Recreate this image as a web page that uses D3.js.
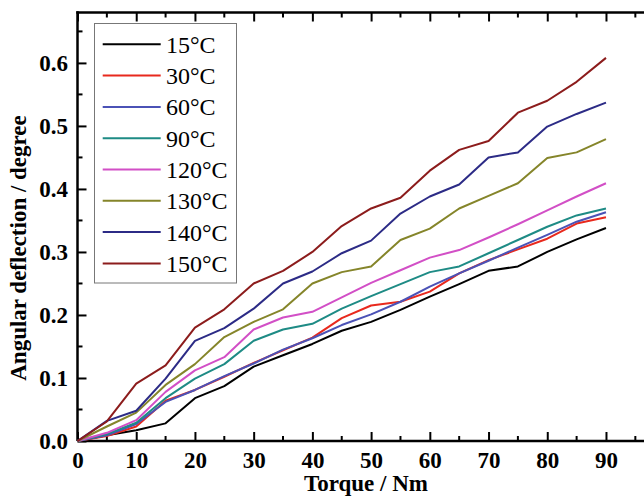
<!DOCTYPE html>
<html>
<head>
<meta charset="UTF-8" />
<title>Angular deflection vs torque</title>
<script src="https://d3js.org/d3.v7.min.js"></script>
<style type="text/css">
body {
    margin: 0;
    background-color: white;
}
svg text {
    font-family: "Liberation Serif", "DejaVu Serif", serif;
}
.tick-label {
    font-size: 23px;
    font-weight: bold;
}
.axis-title {
    font-size: 23px;
    font-weight: bold;
}
.legend-label {
    font-size: 24px;
}
</style>
</head>
<body>
<svg id="chart" width="644" height="496"></svg>

<script type="text/javascript">
// x values (torque, Nm)
var torque = [0, 5, 10, 15, 20, 25, 30, 35, 40, 45, 50, 55, 60, 65, 70, 75, 80, 85, 90];

// angular deflection (degree) for each temperature
var t15  = [0, 0.009, 0.017, 0.028, 0.068, 0.087, 0.118, 0.136, 0.154, 0.175, 0.189, 0.208, 0.229, 0.249, 0.270, 0.277, 0.300, 0.320, 0.338];
var t30  = [0, 0.008, 0.023, 0.064, 0.081, 0.102, 0.124, 0.144, 0.164, 0.195, 0.215, 0.221, 0.237, 0.266, 0.287, 0.304, 0.321, 0.345, 0.355];
var t60  = [0, 0.009, 0.027, 0.062, 0.081, 0.103, 0.123, 0.145, 0.163, 0.184, 0.201, 0.221, 0.245, 0.266, 0.286, 0.307, 0.327, 0.348, 0.363];
var t90  = [0, 0.011, 0.029, 0.068, 0.099, 0.122, 0.159, 0.177, 0.186, 0.210, 0.230, 0.249, 0.268, 0.277, 0.298, 0.319, 0.340, 0.358, 0.369];
var t120 = [0, 0.013, 0.033, 0.078, 0.112, 0.133, 0.177, 0.196, 0.205, 0.228, 0.251, 0.271, 0.291, 0.303, 0.323, 0.344, 0.366, 0.388, 0.409];
var t130 = [0, 0.023, 0.045, 0.089, 0.122, 0.165, 0.189, 0.209, 0.250, 0.268, 0.277, 0.319, 0.337, 0.369, 0.389, 0.409, 0.449, 0.458, 0.479];
var t140 = [0, 0.032, 0.048, 0.099, 0.159, 0.179, 0.210, 0.250, 0.269, 0.298, 0.318, 0.361, 0.388, 0.407, 0.450, 0.458, 0.499, 0.519, 0.537];
var t150 = [0, 0.031, 0.091, 0.120, 0.180, 0.209, 0.250, 0.270, 0.300, 0.341, 0.369, 0.386, 0.429, 0.462, 0.476, 0.521, 0.540, 0.570, 0.608];

var names  = ['15°C', '30°C', '60°C', '90°C', '120°C', '130°C', '140°C', '150°C'];
var series = [t15, t30, t60, t90, t120, t130, t140, t150];
var colors = ['#000000', '#e8291d', '#4b52b6', '#1e8b85', '#d24fc6', '#85852a', '#2c2b86', '#8c1c1c'];

var xTicks = [0, 10, 20, 30, 40, 50, 60, 70, 80, 90];
var yTicks = [0.0, 0.1, 0.2, 0.3, 0.4, 0.5, 0.6];

var svg = d3.select("#chart");

// plot area (right side runs off the picture, like the original)
var plotLeft = 77.5, plotTop = 12.5, plotBottom = 441;
var x = d3.scaleLinear().domain([0, 100]).range([plotLeft, plotLeft + 587.2]);
var y = d3.scaleLinear().domain([0, 0.68]).range([plotBottom, plotTop]);

// bottom axis, ticks pointing inward
var xAxis = d3.axisBottom(x).tickValues(xTicks).tickSize(-9).tickPadding(11)
    .tickFormat(d3.format("d"));
var gx = svg.append("g").attr("transform", "translate(0," + plotBottom + ")").call(xAxis);

// minor ticks
var xMinor = d3.range(5, 100, 10);
var yMinor = d3.range(0.05, 0.68, 0.1);

svg.append("g").selectAll("line").data(xMinor).enter().append("line")
    .attr("x1", function(d) { return x(d); }).attr("x2", function(d) { return x(d); })
    .attr("y1", plotBottom).attr("y2", plotBottom - 5)
    .attr("stroke", "black").attr("stroke-width", 2);

// top axis, ticks pointing down, no labels
var gxt = svg.append("g").attr("transform", "translate(0," + plotTop + ")")
    .call(d3.axisTop(x).tickValues(xTicks).tickSize(-9).tickFormat(""));
svg.append("g").selectAll("line").data(xMinor).enter().append("line")
    .attr("x1", function(d) { return x(d); }).attr("x2", function(d) { return x(d); })
    .attr("y1", plotTop).attr("y2", plotTop + 5)
    .attr("stroke", "black").attr("stroke-width", 2);

// left axis
var yAxis = d3.axisLeft(y).tickValues(yTicks).tickSize(-9).tickPadding(9.5)
    .tickFormat(d3.format(".1f"));
var gy = svg.append("g").attr("transform", "translate(" + plotLeft + ",0)").call(yAxis);
svg.append("g").selectAll("line").data(yMinor).enter().append("line")
    .attr("x1", plotLeft).attr("x2", plotLeft + 5)
    .attr("y1", function(d) { return y(d); }).attr("y2", function(d) { return y(d); })
    .attr("stroke", "black").attr("stroke-width", 2);

// style axes
[gx, gxt, gy].forEach(function(g) {
    g.select(".domain").attr("stroke", "black").attr("stroke-width", 2.5);
    g.selectAll(".tick line").attr("stroke", "black").attr("stroke-width", 2);
    g.selectAll(".tick text").attr("class", "tick-label").attr("fill", "black");
});
gx.select(".domain").attr("d", "M" + plotLeft + ",0H" + 700);
gxt.select(".domain").attr("d", "M" + (plotLeft - 1.2) + ",0H" + 700);
gy.select(".domain").attr("d", "M0," + plotBottom + "V" + (plotTop - 1.2));

// data lines
var line = d3.line()
    .x(function(d, i) { return x(torque[i]); })
    .y(function(d) { return y(d); });

svg.append("g").selectAll("path").data(series).enter().append("path")
    .attr("d", line)
    .attr("fill", "none")
    .attr("stroke", function(d, i) { return colors[i]; })
    .attr("stroke-width", 2)
    .attr("stroke-linejoin", "round");

// legend
var legend = svg.append("g");
legend.append("rect")
    .attr("x", 94.5).attr("y", 23.5).attr("width", 142).attr("height", 259.5)
    .attr("fill", "white").attr("stroke", "#777").attr("stroke-width", 1);

var rows = legend.selectAll("g.row").data(names).enter().append("g")
    .attr("class", "row")
    .attr("transform", function(d, i) { return "translate(0," + (44.3 + i * 31.3) + ")"; });
rows.append("line")
    .attr("x1", 102.7).attr("x2", 160.7).attr("y1", 0).attr("y2", 0)
    .attr("stroke", function(d, i) { return colors[i]; })
    .attr("stroke-width", 2);
rows.append("text")
    .attr("class", "legend-label")
    .attr("x", 166).attr("y", 8.5)
    .text(function(d) { return d; });

// axis titles
svg.append("text").attr("class", "axis-title")
    .attr("x", 366).attr("y", 491).attr("text-anchor", "middle")
    .text("Torque / Nm");
svg.append("text").attr("class", "axis-title")
    .attr("transform", "translate(26,248) rotate(-90)")
    .attr("text-anchor", "middle")
    .text("Angular deflection / degree");
</script>
</body>
</html>
